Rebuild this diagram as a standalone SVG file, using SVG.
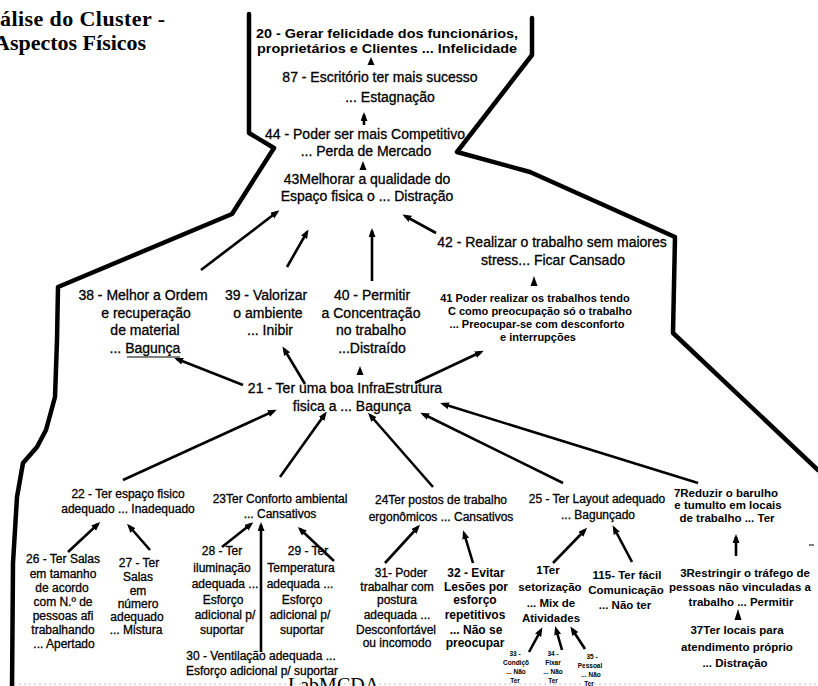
<svg xmlns="http://www.w3.org/2000/svg" width="818" height="686" viewBox="0 0 818 686">
  <style>
    text { font-family: "Liberation Sans", Arial, sans-serif; fill: #000; text-anchor: middle; }
    .title { font-family: "Liberation Serif", "Times New Roman", serif; font-weight: bold; font-size: 22px; text-anchor: start; }
    .logo { font-family: "Liberation Serif", "Times New Roman", serif; font-size: 20px; text-anchor: start; }
    .t14 { font-size: 14px; stroke: #000; stroke-width: 0.3; }
    .t12 { font-size: 12px; stroke: #000; stroke-width: 0.3; }
    .b12 { font-size: 12px; font-weight: bold; }
    .b13 { font-size: 12.5px; font-weight: bold; }
    .b11 { font-size: 11.5px; font-weight: bold; }
    .b10 { font-size: 11px; font-weight: bold; }
    .b6 { font-size: 6.5px; font-weight: bold; }
    .frame { fill: none; stroke: #000; stroke-width: 4.5; stroke-linejoin: round; stroke-linecap: round; }
    .c { fill: none; stroke: #000; stroke-width: 2.6; marker-end: url(#ah); }
    .tip { fill: #000; }
    .page { fill: none; stroke: #bbb; stroke-width: 1.2; stroke-dasharray: 2 3; }
  </style>
  <defs>
    <marker id="ah" markerUnits="userSpaceOnUse" markerWidth="10" markerHeight="8" refX="6" refY="3.5" orient="auto">
      <path d="M0,0 L9,3.5 L0,7 z" fill="#000"/>
    </marker>
  </defs>

  <rect width="818" height="686" fill="#fff"/>

  <!-- title -->
  <g id="title">
    <text class="title" x="0" y="26" textLength="165" lengthAdjust="spacing">álise do Cluster -</text>
    <text class="title" x="-6" y="50">Aspectos Físicos</text>
  </g>

  <!-- cluster outline -->
  <g id="outline">
    <polyline class="frame" points="249,14 249,133 274,148 232,214 58,287 57,340 55,397 46,430 37,447 23,463 17,497 13,563 12,690"/>
    <polyline class="frame" points="532,18 532,55 457,152 530,172 675,237 673,333 818,470"/>
  </g>

  <!-- nodes -->
  <g id="n20">
    <text class="b13"><tspan x="387" y="38" textLength="262" lengthAdjust="spacingAndGlyphs">20 -  Gerar felicidade dos funcionários,</tspan><tspan x="387" y="53" textLength="260" lengthAdjust="spacingAndGlyphs">proprietários e Clientes ... Infelicidade</tspan></text>
  </g>
  <g id="n87">
    <text class="t14"><tspan x="380" y="82">87 - Escritório ter mais sucesso</tspan><tspan x="390" y="102">... Estagnação</tspan></text>
  </g>
  <g id="n44">
    <text class="t14"><tspan x="365" y="139">44 - Poder ser mais Competitivo</tspan><tspan x="366" y="156">... Perda de Mercado</tspan></text>
  </g>
  <g id="n43">
    <text class="t14"><tspan x="367" y="184">43Melhorar a qualidade do</tspan><tspan x="367" y="201">Espaço fisica o ... Distração</tspan></text>
  </g>
  <g id="n42">
    <text class="t14"><tspan x="552" y="247">42 - Realizar o trabalho sem maiores</tspan><tspan x="553" y="265">stress... Ficar Cansado</tspan></text>
  </g>
  <g id="n38">
    <text class="t14"><tspan x="143" y="300">38 - Melhor a Ordem</tspan><tspan x="146" y="318">e recuperação</tspan><tspan x="145" y="335">de material</tspan><tspan x="145" y="353">... Bagunça</tspan></text>
    <line x1="127" y1="357" x2="180" y2="357" stroke="#000" stroke-width="1"/>
  </g>
  <g id="n39">
    <text class="t14"><tspan x="266" y="300">39 - Valorizar</tspan><tspan x="268" y="318">o ambiente</tspan><tspan x="270" y="335">... Inibir</tspan></text>
  </g>
  <g id="n40">
    <text class="t14"><tspan x="372" y="300">40 - Permitir</tspan><tspan x="371" y="318">a Concentração</tspan><tspan x="371" y="335">no trabalho</tspan><tspan x="372" y="353">...Distraído</tspan></text>
  </g>
  <g id="n41">
    <text class="b10"><tspan x="535" y="302">41 Poder realizar os trabalhos tendo</tspan><tspan x="540" y="315">C como preocupação só o trabalho</tspan><tspan x="537" y="328">... Preocupar-se com desconforto</tspan><tspan x="538" y="341">e interrupções</tspan></text>
  </g>
  <g id="n21">
    <text class="t14"><tspan x="345" y="393">21 -  Ter uma boa InfraEstrutura</tspan><tspan x="352" y="411">fisica a ... Bagunça</tspan></text>
  </g>
  <g id="n22">
    <text class="t12"><tspan x="128" y="498">22 - Ter espaço fisico</tspan><tspan x="128" y="513">adequado ... Inadequado</tspan></text>
  </g>
  <g id="n23">
    <text class="t12"><tspan x="280" y="503">23Ter Conforto ambiental</tspan><tspan x="280" y="518">... Cansativos</tspan></text>
  </g>
  <g id="n24">
    <text class="t12"><tspan x="441" y="504">24Ter postos de trabalho</tspan><tspan x="441" y="521">ergonômicos ... Cansativos</tspan></text>
  </g>
  <g id="n25">
    <text class="t12"><tspan x="597" y="503">25 - Ter Layout adequado</tspan><tspan x="598" y="519">... Bagunçado</tspan></text>
  </g>
  <g id="n7">
    <text class="b11"><tspan x="726" y="497">7Reduzir o barulho</tspan><tspan x="728" y="509">e tumulto em locais</tspan><tspan x="727" y="522">de trabalho ... Ter</tspan></text>
  </g>
  <g id="n26">
    <text class="t12"><tspan x="63" y="563">26 - Ter Salas</tspan><tspan x="63" y="578">em tamanho</tspan><tspan x="62" y="592">de acordo</tspan><tspan x="63" y="606">com  N.º de</tspan><tspan x="63" y="620">pessoas afi</tspan><tspan x="63" y="634">trabalhando</tspan><tspan x="64" y="648">... Apertado</tspan></text>
  </g>
  <g id="n27">
    <text class="t12"><tspan x="139" y="567">27 - Ter</tspan><tspan x="138" y="581">Salas</tspan><tspan x="138" y="595">em</tspan><tspan x="138" y="608">número</tspan><tspan x="137" y="621">adequado</tspan><tspan x="136" y="634">... Mistura</tspan></text>
  </g>
  <g id="n28">
    <text class="t12"><tspan x="222" y="555">28 - Ter</tspan><tspan x="222" y="572">iluminação</tspan><tspan x="225" y="588">adequada ...</tspan><tspan x="223" y="604">Esforço</tspan><tspan x="225" y="619">adicional p/</tspan><tspan x="222" y="634">suportar</tspan></text>
  </g>
  <g id="n29">
    <text class="t12"><tspan x="308" y="555">29 - Ter</tspan><tspan x="301" y="572">Temperatura</tspan><tspan x="300" y="588">adequada ...</tspan><tspan x="302" y="604">Esforço</tspan><tspan x="300" y="619">adicional p/</tspan><tspan x="302" y="634">suportar</tspan></text>
  </g>
  <g id="n30">
    <text class="t12"><tspan x="261" y="660">30 - Ventilação adequada  ...</tspan><tspan x="262" y="675">Esforço adicional p/ suportar</tspan></text>
  </g>
  <g id="n31">
    <text class="t12"><tspan x="401" y="577">31- Poder</tspan><tspan x="397" y="591">trabalhar com</tspan><tspan x="397" y="604">postura</tspan><tspan x="397" y="619">adequada ...</tspan><tspan x="396" y="634">Desconfortável</tspan><tspan x="397" y="647">ou incomodo</tspan></text>
  </g>
  <g id="n32">
    <text class="b12"><tspan x="476" y="577">32 - Evitar</tspan><tspan x="476" y="591">Lesões por</tspan><tspan x="475" y="604">esforço</tspan><tspan x="475" y="619">repetitivos</tspan><tspan x="476" y="634">... Não se</tspan><tspan x="475" y="647">preocupar</tspan></text>
  </g>
  <g id="n1">
    <text class="b11"><tspan x="548" y="574">1Ter</tspan><tspan x="550" y="591">setorização</tspan><tspan x="551" y="607">... Mix de</tspan><tspan x="551" y="622">Atividades</tspan></text>
  </g>
  <g id="n115">
    <text class="b11"><tspan x="627" y="579">115- Ter fácil</tspan><tspan x="626" y="594">Comunicação</tspan><tspan x="625" y="609">... Não ter</tspan></text>
  </g>
  <g id="n3">
    <text class="b11"><tspan x="745" y="577">3Restringir o  tráfego de</tspan><tspan x="740" y="591">pessoas não vinculadas a</tspan><tspan x="741" y="606">trabalho  ... Permitir</tspan></text>
  </g>
  <g id="n37">
    <text class="b11"><tspan x="737" y="634">37Ter locais para</tspan><tspan x="737" y="651">atendimento próprio</tspan><tspan x="735" y="667">... Distração</tspan></text>
  </g>
  <g id="n33">
    <text class="b6"><tspan x="515" y="656">33 -</tspan><tspan x="516" y="665">Condiçõ</tspan><tspan x="516" y="674">... Não</tspan><tspan x="515" y="683">Ter</tspan></text>
  </g>
  <g id="n34">
    <text class="b6"><tspan x="553" y="656">34 -</tspan><tspan x="553" y="665">Fixar</tspan><tspan x="553" y="674">... Não</tspan><tspan x="553" y="683">Ter</tspan></text>
  </g>
  <g id="n35">
    <text class="b6"><tspan x="592" y="659">35 -</tspan><tspan x="590" y="668">Pessoal</tspan><tspan x="591" y="677">... Não</tspan><tspan x="589" y="686">Ter</tspan></text>
  </g>

  <!-- connectors -->
  <g id="connectors">
    <polygon class="tip" points="371,57 374.5,65 367.5,65"/>
    <line class="c" x1="364" y1="125" x2="364" y2="115"/>
    <polygon class="tip" points="363,161 366.5,170 359.5,170"/>
    <line class="c" x1="201" y1="270" x2="277" y2="212"/>
    <line class="c" x1="287" y1="267" x2="307" y2="232"/>
    <line class="c" x1="372" y1="281" x2="372" y2="231"/>
    <line class="c" x1="436" y1="233" x2="405" y2="216"/>
    <polygon class="tip" points="534,276 537.5,286 530.5,286"/>
    <line class="c" x1="243" y1="385" x2="177" y2="359"/>
    <line class="c" x1="305" y1="384" x2="284" y2="349"/>
    <polygon class="tip" points="360,366 363.5,375 356.5,375"/>
    <line class="c" x1="415" y1="383" x2="481" y2="352"/>
    <line class="c" x1="123" y1="480" x2="274" y2="411"/>
    <line class="c" x1="280" y1="477" x2="325" y2="414"/>
    <line class="c" x1="433" y1="487" x2="370" y2="415"/>
    <line class="c" x1="563" y1="483" x2="423" y2="414"/>
    <line class="c" x1="698" y1="483" x2="443" y2="404"/>
    <line class="c" x1="68" y1="552" x2="98" y2="524"/>
    <line class="c" x1="150" y1="550" x2="129" y2="526"/>
    <line class="c" x1="222" y1="547" x2="251" y2="524"/>
    <line class="c" x1="261" y1="652" x2="261" y2="525"/>
    <line class="c" x1="334" y1="561" x2="300" y2="529"/>
    <line class="c" x1="385" y1="563" x2="418" y2="527"/>
    <line class="c" x1="473" y1="563" x2="464" y2="533"/>
    <line class="c" x1="553" y1="563" x2="585" y2="530"/>
    <line class="c" x1="632" y1="562" x2="614" y2="528"/>
    <line class="c" x1="736" y1="556" x2="736" y2="537"/>
    <polygon class="tip" points="738,609 741.5,620 734.5,620"/>
    <line class="c" x1="529" y1="652" x2="541" y2="630"/>
    <line class="c" x1="562" y1="650" x2="556" y2="629"/>
    <line class="c" x1="585" y1="649" x2="572" y2="629"/>
  </g>

  <!-- page edge and footer -->
  <g id="footer">
    <line class="page" x1="14" y1="684" x2="818" y2="684"/>
    <line x1="809" y1="545" x2="814" y2="545" stroke="#000" stroke-width="1"/>
    <text class="logo" x="288" y="692">LabMCDA</text>
  </g>
</svg>
